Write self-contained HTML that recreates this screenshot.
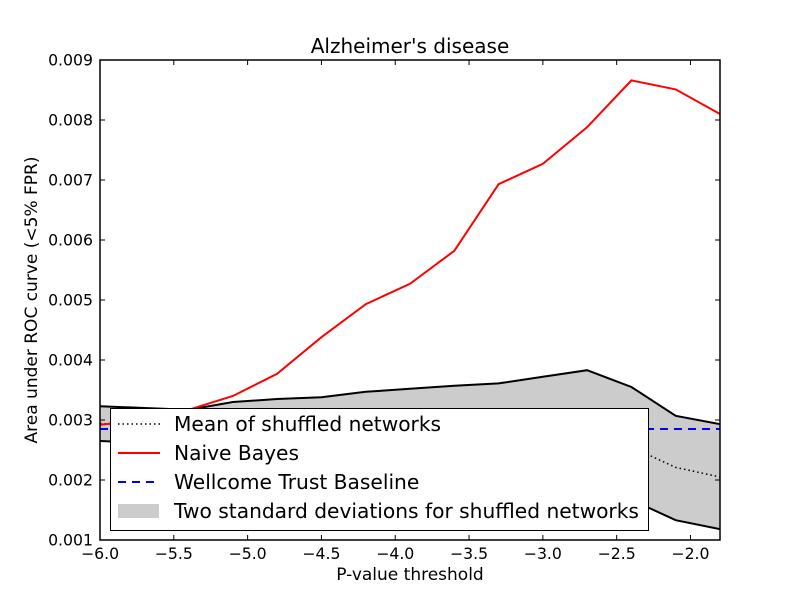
<!DOCTYPE html>
<html><head><meta charset="utf-8"><style>
body{margin:0;background:#fff}
svg{display:block;font-family:"DejaVu Sans","Liberation Sans",sans-serif}
</style></head><body>
<svg id="chart" width="800" height="600" xmlns="http://www.w3.org/2000/svg">
<rect width="800" height="600" fill="#fff"/>
<g id="plot"></g>
</svg>
<script>
const xVals=[-6,-5.7,-5.4,-5.1,-4.8,-4.5,-4.2,-3.9,-3.6,-3.3,-3.0,-2.7,-2.4,-2.1,-1.8];
const naiveBayes=[0.00292,0.00300,0.00317,0.00340,0.00377,0.00438,0.00493,0.00527,0.00582,0.00693,0.00727,0.00788,0.00866,0.00851,0.00810];
const bandUpper=[0.00323,0.00320,0.00317,0.00330,0.00335,0.00338,0.00347,0.00352,0.00357,0.00361,0.00372,0.00383,0.00355,0.00307,0.00293];
const bandLower=[0.00265,0.00262,0.00260,0.00258,0.00255,0.00252,0.00248,0.00244,0.00240,0.00233,0.00222,0.00200,0.00167,0.00133,0.00118];
const shuffledMean=[0.00294,0.00291,0.00288,0.00294,0.00295,0.00295,0.00297,0.00298,0.00298,0.00297,0.00297,0.00291,0.00255,0.00221,0.00205];
const baseline=0.00285;
const xTicks=[-6,-5.5,-5,-4.5,-4,-3.5,-3,-2.5,-2];
const xTickLabels=["\u22126.0","\u22125.5","\u22125.0","\u22124.5","\u22124.0","\u22123.5","\u22123.0","\u22122.5","\u22122.0"];
const yTicks=[0.001,0.002,0.003,0.004,0.005,0.006,0.007,0.008,0.009];
const yTickLabels=["0.001","0.002","0.003","0.004","0.005","0.006","0.007","0.008","0.009"];

const L=100,R=720,T=60,B=540,xmin=-6,xmax=-1.8,ymin=0.001,ymax=0.009;
const sx=v=>L+(v-xmin)/(xmax-xmin)*(R-L);
const sy=v=>B-(v-ymin)/(ymax-ymin)*(B-T);
const NS="http://www.w3.org/2000/svg";
const g=document.getElementById('plot');
function mk(tag,attrs,parent){const e=document.createElementNS(NS,tag);for(const k in attrs)e.setAttribute(k,attrs[k]);(parent||g).appendChild(e);return e;}
const pts=(xs,ys)=>xs.map((x,i)=>sx(x).toFixed(1)+','+sy(ys[i]).toFixed(1)).join(' ');

const clip=mk('clipPath',{id:'clip'});mk('rect',{x:L,y:T,width:R-L,height:B-T},clip);
const inner=mk('g',{'clip-path':'url(#clip)'});
let band=mk('polygon',{points:pts(xVals,bandUpper)+' '+pts(xVals.slice().reverse(),bandLower.slice().reverse()),fill:'#cccccc',stroke:'none'},inner);


let up=mk('polyline',{points:pts(xVals,bandUpper),fill:'none',stroke:'#000','stroke-width':2},inner);


let lo=mk('polyline',{points:pts(xVals,bandLower),fill:'none',stroke:'#000','stroke-width':2},inner);


let mean=mk('polyline',{points:pts(xVals,shuffledMean),fill:'none',stroke:'#000','stroke-width':1.5,'stroke-dasharray':'1.5,3'},inner);


let bl=mk('line',{x1:L,x2:R,y1:sy(baseline),y2:sy(baseline),stroke:'#0000ff','stroke-width':2,'stroke-dasharray':'8,6'},inner);


let nb=mk('polyline',{points:pts(xVals,naiveBayes),fill:'none',stroke:'#ff0000','stroke-width':2},inner);



xTicks.forEach((v,i)=>{const x=sx(v);
 mk('line',{x1:x,x2:x,y1:B,y2:B-5,stroke:'#000'});mk('line',{x1:x,x2:x,y1:T,y2:T+5,stroke:'#000'});
 const t=mk('text',{x:x,y:B+19,'text-anchor':'middle','font-size':15.7});t.textContent=xTickLabels[i];
 
 });
yTicks.forEach((v,i)=>{const y=sy(v);
 mk('line',{x1:L,x2:L+5,y1:y,y2:y,stroke:'#000'});mk('line',{x1:R,x2:R-5,y1:y,y2:y,stroke:'#000'});
 const t=mk('text',{x:L-7,y:y+5.5,'text-anchor':'end','font-size':15.7});t.textContent=yTickLabels[i];
 
 });
let fr=mk('rect',{x:L,y:T,width:R-L,height:B-T,fill:'none',stroke:'#000','stroke-width':1.5});



// legend
const lg=mk('g',{});


mk('rect',{x:110.5,y:408.5,width:538,height:122,fill:'#fff',stroke:'#000','stroke-width':1},lg);
const ly=[424,453,482,511],lab=["Mean of shuffled networks","Naive Bayes","Wellcome Trust Baseline","Two standard deviations for shuffled networks"];
mk('line',{x1:118,x2:160,y1:ly[0],y2:ly[0],stroke:'#000','stroke-width':1.5,'stroke-dasharray':'1.5,3'},lg);
mk('line',{x1:118,x2:160,y1:ly[1],y2:ly[1],stroke:'#ff0000','stroke-width':2},lg);
mk('line',{x1:118,x2:160,y1:ly[2],y2:ly[2],stroke:'#0000ff','stroke-width':2,'stroke-dasharray':'8,6'},lg);
mk('rect',{x:118,y:504,width:41,height:14,fill:'#cccccc'},lg);
lab.forEach((s,i)=>{const t=mk('text',{x:174,y:ly[i]+7,'font-size':20.2},lg);t.textContent=s;
 
 });

let tt=mk('text',{x:410,y:53,'text-anchor':'middle','font-size':20});tt.textContent="Alzheimer's disease";


let xt=mk('text',{x:410,y:580,'text-anchor':'middle','font-size':17});xt.textContent="P-value threshold";


let yt=mk('text',{x:0,y:0,'text-anchor':'middle','font-size':17,transform:'translate(37,300) rotate(-90)'});yt.textContent="Area under ROC curve (<5% FPR)";


</script>
</body></html>
